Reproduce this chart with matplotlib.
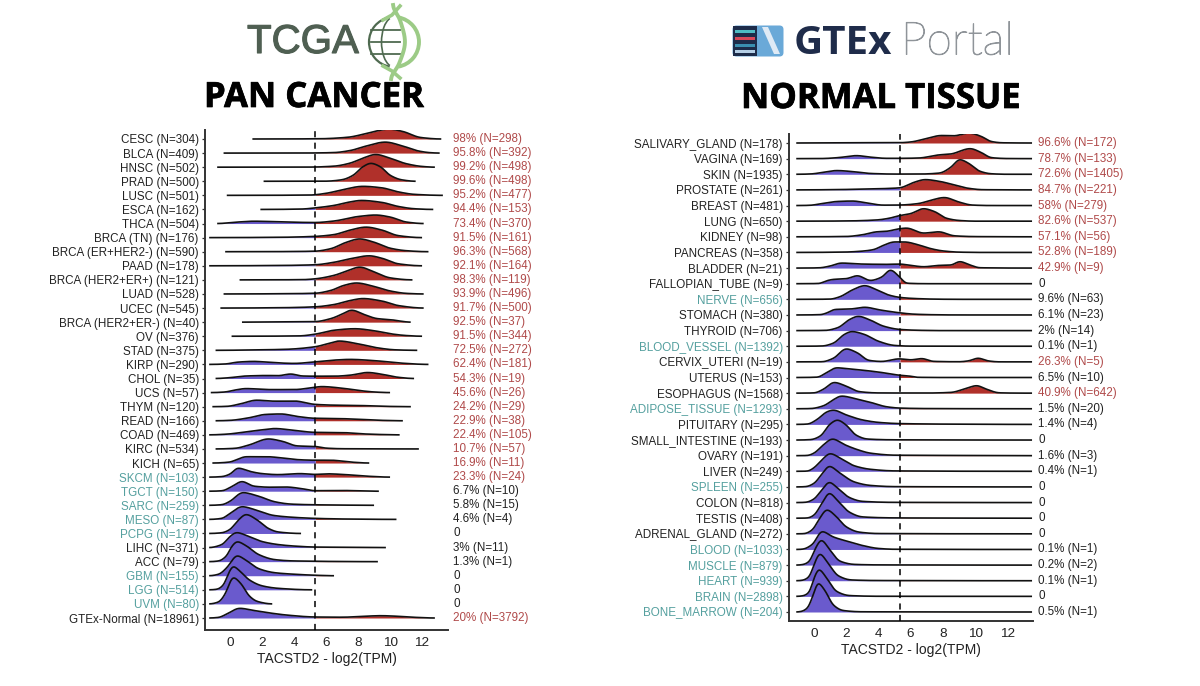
import numpy as np
import matplotlib
matplotlib.use('Agg')
import matplotlib.pyplot as plt
import matplotlib.patheffects as pe
from matplotlib.patches import Arc, Rectangle, FancyBboxPatch, Polygon

plt.rcParams['font.family'] = ['Liberation Sans', 'DejaVu Sans']

# tcga panel
tcga_labels = ['CESC (N=304)', 'BLCA (N=409)', 'HNSC (N=502)', 'PRAD (N=500)', 'LUSC (N=501)', 'ESCA (N=162)',
               'THCA (N=504)', 'BRCA (TN) (N=176)', 'BRCA (ER+HER2-) (N=590)', 'PAAD (N=178)',
               'BRCA (HER2+ER+) (N=121)', 'LUAD (N=528)', 'UCEC (N=545)', 'BRCA (HER2+ER-) (N=40)', 'OV (N=376)',
               'STAD (N=375)', 'KIRP (N=290)', 'CHOL (N=35)', 'UCS (N=57)', 'THYM (N=120)', 'READ (N=166)',
               'COAD (N=469)', 'KIRC (N=534)', 'KICH (N=65)', 'SKCM (N=103)', 'TGCT (N=150)', 'SARC (N=259)',
               'MESO (N=87)', 'PCPG (N=179)', 'LIHC (N=371)', 'ACC (N=79)', 'GBM (N=155)', 'LGG (N=514)',
               'UVM (N=80)', 'GTEx-Normal (N=18961)']
tcga_pcts = ['98% (N=298)', '95.8% (N=392)', '99.2% (N=498)', '99.6% (N=498)', '95.2% (N=477)', '94.4% (N=153)',
             '73.4% (N=370)', '91.5% (N=161)', '96.3% (N=568)', '92.1% (N=164)', '98.3% (N=119)', '93.9% (N=496)',
             '91.7% (N=500)', '92.5% (N=37)', '91.5% (N=344)', '72.5% (N=272)', '62.4% (N=181)', '54.3% (N=19)',
             '45.6% (N=26)', '24.2% (N=29)', '22.9% (N=38)', '22.4% (N=105)', '10.7% (N=57)', '16.9% (N=11)',
             '23.3% (N=24)', '6.7% (N=10)', '5.8% (N=15)', '4.6% (N=4)', '0', '3% (N=11)', '1.3% (N=1)', '0', '0',
             '0', '20% (N=3792)']
tcga_teal = ['SKCM (N=103)', 'TGCT (N=150)', 'SARC (N=259)', 'MESO (N=87)', 'PCPG (N=179)', 'GBM (N=155)',
             'LGG (N=514)', 'UVM (N=80)']
tcga_red = tcga_pcts[:25] + ['20% (N=3792)']

# density, (x, height) pairs
tcga_ridges = [
    [(1.4, 0), (5.5, .2), (7.35, 1.7), (8.4, 5), (9.3, 8.5), (9.9, 10), (10.8, 7.5), (11.9, 1.5), (13.2, 0)],
    [(-.4, 0), (5, .1), (6.5, .5), (7.5, 2.5), (8.5, 7), (9.7, 11), (10.8, 7), (11.8, 2), (12.5, .4), (13.1, 0)],
    [(-.8, 0), (5, .1), (6.5, 1), (7.5, 4), (8.3, 9), (9.1, 12.7), (10, 9), (11, 3.5), (12, .7), (12.8, 0)],
    [(2.1, 0), (6, .1), (7, 1.5), (7.7, 6), (8.3, 14.5), (8.8, 18), (9.4, 14.5), (10, 6), (10.7, 1.5), (11.6, 0)],
    [(-.2, 0), (5, .3), (6, 2), (7, 5.5), (8.3, 9), (9.5, 7.5), (10.5, 3.5), (11.5, 1), (13.3, 0)],
    [(1.9, 0), (4.5, .4), (5.3, 1.5), (6.5, 4), (7.5, 7.5), (8.2, 9), (9.5, 7), (10.5, 3), (11.5, .7), (12.7, 0)],
    [(-.8, 0), (.5, 1.5), (1.5, 2.3), (3.5, 1.5), (5.3, 1), (6.5, 2.5), (8, 7), (9.1, 8.5), (10, 6.5), (11, 1.5), (12.1, 0)],
    [(-1.3, 0), (3, .3), (5.3, 1.2), (6.5, 3), (7.5, 7.5), (8.5, 10.5), (9.5, 7.5), (10.5, 2), (12, 0)],
    [(-.3, 0), (3, .1), (5.3, .5), (6.3, 3), (7.2, 9), (8.1, 12.8), (9, 9.5), (10, 3.5), (11, 1), (12.4, 0)],
    [(-1.3, 0), (3, .3), (5.3, 1), (6.5, 3.5), (7.5, 7), (8.7, 10), (9.5, 7.5), (10.5, 2), (12, 0)],
    [(.6, 0), (4.5, .2), (5.3, 1), (6.5, 4.5), (7.4, 9.5), (8.1, 12.8), (9, 8), (10, 2), (11.4, 0)],
    [(-.4, 0), (3, .2), (5.3, .7), (6.3, 3.5), (7.1, 8.5), (7.9, 11), (9, 7.5), (10, 3), (11, .6), (12.1, 0)],
    [(-.6, 0), (3, .3), (5.3, 1.2), (6.5, 3.5), (7.5, 7.5), (8.3, 9.5), (9.5, 7), (10.5, 2.5), (12.1, 0)],
    [(.75, 0), (3, .3), (5.3, .5), (6.3, 3.5), (7, 8), (7.6, 12), (8.4, 7.5), (9.2, 3.5), (10, 2.5), (11.3, 0)],
    [(.1, 0), (4.3, .3), (5.3, 2), (6.5, 6), (7.8, 7.5), (9, 5.5), (10, 2.5), (11, .7), (12, 0)],
    [(-.9, 0), (1.5, .4), (3.5, 1), (5.3, 3.5), (6.2, 7), (6.8, 9.3), (8, 6.5), (9.2, 2.5), (10.3, .5), (11.7, 0)],
    [(-1.3, 0), (-.3, .4), (.5, 2.3), (1.5, 3), (2.5, 2), (4, 1), (5.3, 2.5), (6.5, 4.3), (7.5, 5), (9, 3.8), (10.5, 1.5), (12.4, 0)],
    [(-.9, 0), (-.1, .7), (1, 2.5), (2.4, 3), (3, 2.8), (3.8, 4.5), (4.5, 2.5), (5.3, 2.3), (6.5, 2.3), (7.5, 3.3), (8.6, 6), (9.5, 4.2), (10.5, 1.2), (11.5, 0)],
    [(-1.2, 0), (-.3, .6), (.3, 2.5), (1, 4), (2.5, 3), (4, 3), (5.3, 5.3), (5.7, 6), (7.1, 4.2), (8, 2.2), (9, .6), (10, 0)],
    [(-1.1, 0), (-.2, .3), (.7, 3), (1.65, 6.5), (2.8, 5.5), (4, 5.7), (5.3, 2.3), (6.5, 1.5), (8, 1.2), (9.5, .4), (11.3, 0)],
    [(-.9, 0), (0, .4), (1.2, 3), (2.2, 6.3), (3.2, 6.8), (4.2, 4.3), (5.3, 2.5), (6.5, 2.3), (8, 1.5), (9.5, .4), (10.8, 0)],
    [(-1.3, 0), (-.2, .7), (1, 3), (2, 5), (2.8, 6.3), (4, 4.5), (5.3, 2.5), (7, 2.3), (8, 1.2), (9.5, .3), (10.6, 0)],
    [(-.9, 0), (.3, .6), (1.2, 4), (2.4, 10), (3.3, 7.5), (4.2, 3), (5.3, 2.5), (6, .8), (7, .2), (11.8, 0)],
    [(-1.1, 0), (0, 1), (.5, 4), (1, 6.3), (2.3, 6.3), (3.3, 5), (4.3, 3.3), (5.3, 2.8), (6.3, 2.8), (7.5, 1), (8.7, 0)],
    [(-1.3, 0), (-.5, .5), (0, 3), (.5, 9), (1.3, 5.5), (2, 3.5), (3, 2.5), (4.4, 3.5), (5.3, 2.7), (6, 3.3), (7.5, 2.2), (8.7, .8), (10, 0)],
    [(-1.3, 0), (-.5, .4), (.1, 4.5), (.75, 9.7), (1.5, 5), (2.5, 4), (3.5, 4.2), (4.5, 2.5), (5.3, .5), (7, .7), (9.3, 0)],
    [(-1.3, 0), (-.5, .6), (0, 4), (.8, 12.7), (1.8, 9), (2.8, 3.5), (3.8, 1.2), (5.3, .5), (7, .2), (9, 0)],
    [(-1.3, 0), (-.5, 1), (0, 6), (.75, 12.7), (1.7, 9), (2.7, 4), (4, 2), (5.3, 1), (7, .4), (10.4, 0)],
    [(-1.3, 0), (-.5, .7), (0, 4), (.5, 13), (1, 19), (1.7, 13.5), (2.4, 5), (3, 1.5), (4.45, 0)],
    [(-1.3, 0), (-.5, 3), (0, 11), (.4, 15), (1.2, 11), (2, 6), (3, 3), (4, 1.5), (5.3, .5), (7, .3), (9.75, 0)],
    [(-1.3, 0), (-.7, .7), (-.2, 6), (.1, 15), (.45, 20), (1, 16), (1.8, 7), (2.8, 2), (4, .7), (9.25, 0)],
    [(-1.3, 0), (-.7, 1.5), (-.2, 8), (.45, 20), (1, 15.5), (1.8, 7), (2.8, 3), (4, 1.5), (5.3, .5), (6.5, 0)],
    [(-1.3, 0), (-.8, .6), (-.4, 5), (-.05, 18), (.2, 23.5), (.6, 19), (1.2, 10), (2, 4), (3, 1.5), (5.15, 0)],
    [(-1.3, 0), (-.7, 2), (-.3, 10), (.2, 26.5), (.7, 20), (1.2, 8), (1.7, 2.5), (2.65, 0)],
    [(-1.3, 0), (-.7, .6), (-.2, 4), (.6, 9.7), (1.5, 7.5), (2.5, 5), (3.5, 3), (5.3, 1), (7, .8), (8.5, 1.8), (9.4, 2.3), (10.5, 1.7), (11.5, .7), (12.8, 0)],
]

# gtex panel
gtex_labels = ['SALIVARY_GLAND (N=178)', 'VAGINA (N=169)', 'SKIN (N=1935)', 'PROSTATE (N=261)', 'BREAST (N=481)',
               'LUNG (N=650)', 'KIDNEY (N=98)', 'PANCREAS (N=358)', 'BLADDER (N=21)', 'FALLOPIAN_TUBE (N=9)',
               'NERVE (N=656)', 'STOMACH (N=380)', 'THYROID (N=706)', 'BLOOD_VESSEL (N=1392)', 'CERVIX_UTERI (N=19)',
               'UTERUS (N=153)', 'ESOPHAGUS (N=1568)', 'ADIPOSE_TISSUE (N=1293)', 'PITUITARY (N=295)',
               'SMALL_INTESTINE (N=193)', 'OVARY (N=191)', 'LIVER (N=249)', 'SPLEEN (N=255)', 'COLON (N=818)',
               'TESTIS (N=408)', 'ADRENAL_GLAND (N=272)', 'BLOOD (N=1033)', 'MUSCLE (N=879)', 'HEART (N=939)',
               'BRAIN (N=2898)', 'BONE_MARROW (N=204)']
gtex_pcts = ['96.6% (N=172)', '78.7% (N=133)', '72.6% (N=1405)', '84.7% (N=221)', '58% (N=279)', '82.6% (N=537)',
             '57.1% (N=56)', '52.8% (N=189)', '42.9% (N=9)', '0', '9.6% (N=63)', '6.1% (N=23)', '2% (N=14)',
             '0.1% (N=1)', '26.3% (N=5)', '6.5% (N=10)', '40.9% (N=642)', '1.5% (N=20)', '1.4% (N=4)', '0',
             '1.6% (N=3)', '0.4% (N=1)', '0', '0', '0', '0', '0.1% (N=1)', '0.2% (N=2)', '0.1% (N=1)', '0',
             '0.5% (N=1)']
gtex_teal = ['NERVE (N=656)', 'BLOOD_VESSEL (N=1392)', 'ADIPOSE_TISSUE (N=1293)', 'SPLEEN (N=255)', 'BLOOD (N=1033)',
             'MUSCLE (N=879)', 'HEART (N=939)', 'BRAIN (N=2898)', 'BONE_MARROW (N=204)']
gtex_red = gtex_pcts[:9] + ['26.3% (N=5)', '40.9% (N=642)']

gtex_ridges = [
    [(3, .3), (5.3, .3), (6, 1), (7, 4.5), (7.9, 7.5), (8.7, 7.2), (9.6, 10), (10.4, 6.5), (11, 1.5), (11.7, .2)],
    [(.5, .1), (1.5, 1), (2.65, 3), (3.5, 1.5), (4.5, .3), (5.3, .3), (6.5, .6), (7.8, 3.8), (8.45, 4.5), (9.7, 10), (10.4, 6), (11, 1), (12, .1)],
    [(-.2, .3), (.6, 2), (1.4, 3.7), (2.5, 2.5), (3.5, .8), (5, .2), (6.5, .2), (7.8, 1.2), (8.5, 7), (9.05, 14.7), (9.6, 11), (10.3, 3), (11, .5), (12, 0)],
    [(1, .2), (3, .8), (5.3, 2), (6.2, 7.5), (6.9, 10.3), (7.8, 8.5), (8.7, 5), (9.5, 1.8), (10.5, .2)],
    [(-.3, .2), (.6, 2.2), (1.4, 4), (2.4, 4.5), (3.3, 2.5), (4.3, .4), (5.3, .5), (6.5, 2), (7.2, 5), (8.1, 8), (9, 3.5), (9.8, .5), (11, 0)],
    [(2, .2), (3.9, 1.2), (4.7, 3), (5.3, 5.5), (6, 7.5), (6.8, 12.5), (7.5, 9.5), (8.2, 3), (9, .7), (10, 0)],
    [(2, .3), (3, 2), (3.9, 5), (4.5, 5.5), (5.3, 8), (5.75, 8.7), (6.8, 3.7), (7.75, 5), (8.7, 1), (10, .2)],
    [(2, .4), (3, 1.3), (3.7, 2.8), (4.3, 7), (5, 10.5), (5.6, 10.5), (6.5, 7.5), (7.2, 4), (8, 1.5), (9, .3), (10.5, 0)],
    [(.3, .2), (1, 2), (1.7, 5), (3, 4), (4.5, 3.7), (5.3, 4), (6, 2.7), (6.8, 1.3), (7.8, 2.7), (8.5, 3), (9.05, 6.5), (9.7, 3), (10.3, .3)],
    [(.3, .2), (.8, 3), (1.2, 4.3), (2, 5), (2.7, 8), (3.5, 3.2), (4.2, 6.5), (4.75, 13.7), (5.3, 7), (5.75, .5), (7, 0)],
    [(1, .2), (1.6, 2.5), (2.4, 9.5), (3.15, 13.7), (3.9, 9.5), (4.6, 4.5), (5.3, 2), (6, 1), (7.5, .2), (9, 0)],
    [(.4, .3), (.8, 2), (1.3, 5.5), (2.3, 6), (3.15, 7.7), (4.1, 5), (5.3, 2.2), (6.2, .8), (7.5, .2), (9, 0)],
    [(.7, .2), (1.5, 3), (2.2, 11), (2.75, 14.3), (3.5, 10.5), (4.3, 4.5), (5.3, 1.2), (6.5, .3), (8, 0)],
    [(.5, .2), (1.2, 3), (1.9, 12), (2.35, 14.7), (3.1, 12), (4, 5), (5, .8), (6, .1)],
    [(.5, .1), (1.2, 3.5), (2, 13), (2.7, 9), (3.4, 1.5), (4.2, .4), (5.3, 3), (6, 2), (6.7, 3.3), (7.4, .5), (9, .1), (9.6, 1), (10.2, 3.7), (10.8, 1), (11.5, 0)],
    [(.2, .3), (.8, 5), (1.4, 9.7), (2.2, 8.5), (3.2, 7), (4.2, 5), (5.3, 2.3), (5.9, 1.5), (6.4, .2), (8, 0)],
    [(0, .2), (.6, 4), (1.25, 10.7), (2, 7), (2.8, 1.5), (4, .2), (7, .1), (8.5, .7), (9.5, 5), (10.1, 7.5), (10.7, 4), (11.5, .3), (13, 0)],
    [(-.2, .2), (.6, 3), (1.2, 9), (1.7, 12.7), (2.6, 10), (3.6, 6), (4.5, 2), (5.3, .7), (7, .2)],
    [(-.4, .3), (.2, 5), (.8, 12.5), (1.2, 14.3), (2, 9.5), (3, 4.5), (4, 2), (5.3, .8), (8, .3)],
    [(-.2, .4), (.4, 4), (1, 16), (1.45, 20), (2, 15), (2.6, 5), (3.3, 1), (5, .2)],
    [(-.4, .2), (0, 2.5), (.6, 11), (1.15, 16.7), (1.9, 11), (2.7, 6), (3.5, 2.5), (5, .5), (9, .2)],
    [(-.4, .2), (0, 3.5), (.5, 11.5), (1, 17.7), (1.7, 12.5), (2.5, 5.5), (3.5, 2), (5, .4)],
    [(-.5, .3), (0, 3.5), (.5, 13), (.95, 20.7), (1.6, 14), (2.5, 5), (3.5, 1.5), (5, .3)],
    [(-.5, .3), (0, 3.5), (.5, 13), (.95, 20.3), (1.5, 14), (2.2, 5), (3, 1.2), (5, .2)],
    [(-.4, .2), (0, 3), (.5, 15), (.95, 25), (1.5, 17), (2.2, 6), (3, 1.3), (5, .3), (9, .1)],
    [(-.6, .2), (-.1, 4), (.3, 14), (.8, 24), (1.4, 17), (2, 7), (2.8, 1.7), (4, .3)],
    [(-.7, .3), (-.1, 5), (.5, 18), (1.2, 12.5), (2, 8.5), (3, 4), (4, 1), (5, .2)],
    [(-.7, .5), (-.3, 3.5), (.1, 17), (.45, 25), (1, 15), (1.6, 4), (2.5, .7), (4, .2)],
    [(-.7, .5), (-.3, 4), (.05, 18), (.35, 27), (.9, 17), (1.5, 5), (2.3, .8), (4, .2)],
    [(-.7, .5), (-.3, 4), (0, 18), (.3, 27), (.8, 18), (1.4, 5), (2.2, .8), (4, .1)],
    [(-.8, .5), (-.4, 4), (-.05, 17), (.25, 29), (.7, 21), (1.2, 7), (1.8, 1.5), (3, .2)],
]
# every gtex row runs across the same x range
gtex_xrange = (-1.1, 13.55)

cutoff = 5.33
xticks = [0, 2, 4, 6, 8, 10, 12]

BLUE = '#6a5acd'
RED = '#b0302a'
TEAL = '#55a09f'
REDTXT = '#b04a4a'
TXT = '#222222'


def smooth_line(knots, sigma=0.1, step=0.02):
    # monotone cubic through the read points, then a small blur so the ridges are not angular
    x = np.array([k[0] for k in knots], float)
    y = np.array([k[1] for k in knots], float)
    h = np.diff(x)
    d = np.diff(y) / h
    m = np.zeros(len(x))
    for i in range(1, len(x) - 1):
        if d[i - 1] * d[i] > 0:
            w1 = 2 * h[i] + h[i - 1]
            w2 = h[i] + 2 * h[i - 1]
            m[i] = (w1 + w2) / (w1 / d[i - 1] + w2 / d[i])
    xs = np.arange(x[0], x[-1] + step / 2, step)
    idx = np.clip(np.searchsorted(x, xs) - 1, 0, len(h) - 1)
    t = (xs - x[idx]) / h[idx]
    ys = ((2 * t**3 - 3 * t**2 + 1) * y[idx] + (t**3 - 2 * t**2 + t) * h[idx] * m[idx]
          + (-2 * t**3 + 3 * t**2) * y[idx + 1] + (t**3 - t**2) * h[idx] * m[idx + 1])
    half = int(round(2.5 * sigma / step))
    kernel = np.exp(-0.5 * (np.arange(-half, half + 1) * step / sigma) ** 2)
    ys = np.convolve(np.pad(ys, half, mode='edge'), kernel / kernel.sum(), mode='valid')
    return xs, ys


def ridge_panel(rect, xlim, row_px, labels, pcts, ridges, teal, red, top_pad, bottom_pad):
    ax = fig.add_axes(rect)
    n = len(labels)
    ax.set_xlim(xlim)
    ax.set_ylim(-bottom_pad, n - 1 + top_pad)
    for i, knots in enumerate(ridges):
        base = n - 1 - i
        xs, ys = smooth_line(knots)
        ys = base + ys / row_px
        z = 2 + i * 0.01
        ax.fill_between(xs, base, ys, where=xs <= cutoff, color=BLUE, lw=0, zorder=z, interpolate=True)
        ax.fill_between(xs, base, ys, where=xs >= cutoff, color=RED, lw=0, zorder=z, interpolate=True)
        ax.plot(xs, ys, color='#111111', lw=1.2, zorder=z + 0.001, solid_capstyle='butt')
    ax.axvline(cutoff, color='black', lw=1.1, dashes=(4, 3.5), zorder=5)

    ax.set_yticks(range(n))
    ax.set_yticklabels(labels[::-1], fontsize=8.4)
    for t, lab in zip(ax.get_yticklabels(), labels[::-1]):
        t.set_color(TEAL if lab in teal else TXT)
    for i, p in enumerate(pcts):
        ax.text(1.022, n - 1 - i, p, transform=ax.get_yaxis_transform(), fontsize=8.4, va='center', ha='left',
                color=REDTXT if p in red and p != '0' else TXT)
    ax.set_xticks(xticks)
    ax.tick_params(axis='x', labelsize=9.7, length=0, pad=5, labelcolor=TXT)
    ax.tick_params(axis='y', length=2.5, width=0.9, pad=2, color='#333333')
    ax.set_xlabel('TACSTD2 - log2(TPM)', fontsize=10, labelpad=2, color=TXT)
    for s in ['top', 'right']:
        ax.spines[s].set_visible(False)
    for s in ['left', 'bottom']:
        ax.spines[s].set_linewidth(1.4)
        ax.spines[s].set_color('#333333')
    return ax


def logos(ov):
    heavy = [pe.withStroke(linewidth=0.5, foreground='black')]
    # tcga wordmark + globe
    ov.text(247, 42, 'TCGA', fontsize=29, color='#4f5f52', va='center', ha='left',
            path_effects=[pe.withStroke(linewidth=0.8, foreground='#4f5f52')])
    dark = '#4f6a50'
    light = '#9ccb86'
    cx, cy, r = 394, 42, 25
    ov.add_patch(Arc((cx, cy), 2 * r, 2 * r, theta1=100, theta2=260, color=dark, lw=1.6))
    ov.add_patch(Arc((cx, cy), 2 * r, 2 * r, theta1=280, theta2=80, color=light, lw=2.8))
    ov.add_patch(Arc((cx, cy), r, 2 * r, theta1=100, theta2=260, color=dark, lw=1.2))
    for dy in (-12, 0, 12):
        ov.plot([cx - r + 2, cx + 6], [cy + dy, cy + dy], color=dark, lw=1.3)
    # helix strands run top to bottom, so y goes first here
    ys, xs = smooth_line([(5, 393), (20, 400), (42, 405), (64, 399), (79, 391)], sigma=2, step=0.5)
    ov.plot(xs, ys, color=light, lw=2.8)
    ov.plot([383, 392, 400], [20, 15, 6], color=light, lw=2.6)
    ov.plot([383, 392, 400], [66, 71, 78], color=light, lw=2.6)

    # gtex icon + wordmark
    ov.add_patch(FancyBboxPatch((734, 27), 48, 28, boxstyle='round,pad=1.5,rounding_size=4', fc='#6aa9d8', ec='none'))
    ov.add_patch(Rectangle((733, 26), 24, 30, fc='#1d2c4a', ec='none'))
    for y0, c in [(30, '#4dbcc4'), (37, '#d8485a'), (44, '#3a8fb0'), (50, '#b5cfe6')]:
        ov.add_patch(Rectangle((735, y0), 20, 3, fc=c, ec='none'))
    ov.add_patch(Polygon([(762, 27), (768, 27), (780, 54), (774, 54)], fc='#dfeaf5', ec='none'))
    ov.text(794, 43, 'GTEx', fontsize=29, fontweight='bold', color='#1f2c4a', va='center', ha='left', family='Open Sans')
    ov.text(901, 42, 'Portal', fontsize=33, color='#8f9499', va='center', ha='left', family='Lato', fontweight='light',
            path_effects=[pe.withStroke(linewidth=0.7, foreground='#8f9499')])

    ov.text(314, 98, 'PAN CANCER', fontsize=25, fontweight='bold', ha='center', va='center', color='black',
            family='Open Sans', path_effects=heavy)
    ov.text(881, 99, 'NORMAL TISSUE', fontsize=25, fontweight='bold', ha='center', va='center', color='black',
            family='Open Sans', path_effects=heavy)


W, H = 1200, 686
fig = plt.figure(figsize=(W / 100, H / 100), dpi=100)

# left panel pixel box: x 205-448, y 130-630, rows 14.09 px apart
ridge_panel([205 / W, 1 - 630 / H, 243 / W, 500 / H], (-1.56, 13.62), 14.09, tcga_labels, tcga_pcts,
            tcga_ridges, tcga_teal, tcga_red, 9 / 14.09, 12 / 14.09)

# gtex rows padded out to the common range
gtex_full = []
for knots in gtex_ridges:
    pad = list(knots)
    if pad[0][0] > gtex_xrange[0]:
        pad.insert(0, (gtex_xrange[0], 0))
    if pad[-1][0] < gtex_xrange[1]:
        pad.append((gtex_xrange[1], 0))
    gtex_full.append(pad)

# right panel pixel box: x 789-1033, y 134-621, rows 15.63 px apart
ridge_panel([789 / W, 1 - 621 / H, 244 / W, 487 / H], (-1.55, 13.6), 15.63, gtex_labels, gtex_pcts,
            gtex_full, gtex_teal, gtex_red, 9 / 15.63, 9 / 15.63)

ov = fig.add_axes([0, 0, 1, 1], facecolor='none')
ov.set_xlim(0, W)
ov.set_ylim(H, 0)
ov.axis('off')
logos(ov)

fig.savefig('out.png', dpi=100)
